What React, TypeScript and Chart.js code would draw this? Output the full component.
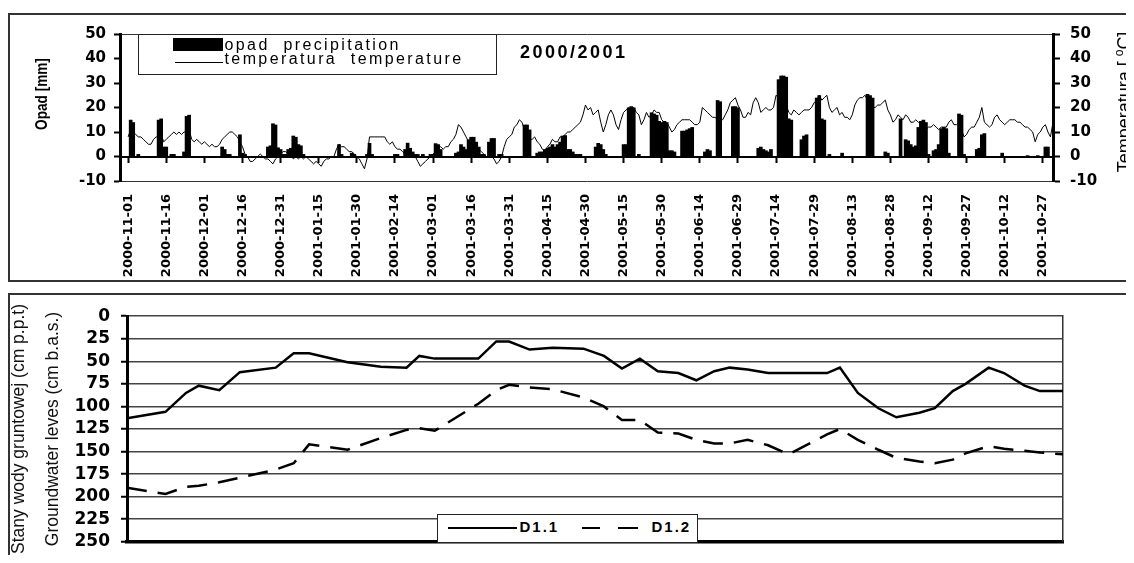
import React, { useEffect, useRef } from 'react';
import { Chart, registerables } from 'chart.js';

Chart.register(...registerables);

// ---------------- DATA ----------------
// Upper panel: daily values, day 0 = 2000-11-01
const xTickLabels = [
  '2000-11-01', '2000-11-16', '2000-12-01', '2000-12-16', '2000-12-31',
  '2001-01-15', '2001-01-30', '2001-02-14', '2001-03-01', '2001-03-16',
  '2001-03-31', '2001-04-15', '2001-04-30', '2001-05-15', '2001-05-30',
  '2001-06-14', '2001-06-29', '2001-07-14', '2001-07-29', '2001-08-13',
  '2001-08-28', '2001-09-12', '2001-09-27', '2001-10-12', '2001-10-27',
];
const tickEveryDays = 15;

// daily air temperature [°C]
const tempC = [
  8, 11, 10, 9, 8, 8, 7, 6, 5, 5,
  7, 8, 8, 9, 6, 7, 8, 9, 10, 9,
  10, 9, 10, 10, 11, 7, 6, 7, 6, 5,
  6, 5, 4, 5, 4, 4, 5, 7, 8, 9,
  10, 10, 9, 8, 6, 4, 1, 0, -2, -2,
  -1, 0, 1, 0, -1, -1, -2, -3, -1, 0,
  1, 2, 2, 1, 1, -1, 0, -1, 0, -1,
  0, -1, -2, -3, -2, -3, -4, -2, -1, -1,
  0, 0, 3, 5, 4, 4, 3, 2, 2, 1,
  0, -1, -3, -5, -1, 8, 8, 8, 8, 8,
  8, 8, 6, 5, 6, 4, 3, 3, 2, 1,
  1, 1, 0, 0, -2, -4, -3, -2, -1, 0,
  1, 2, 3, 4, 3, 4, 4, 6, 7, 9,
  13, 12, 10, 8, 6, 4, 2, 1, 3, 2,
  1, 0, 0, 0, -1, -3, -2, 0, 4, 7,
  8, 9, 12, 13, 15, 14, 11, 9, 7, 7,
  8, 6, 5, 3, 2, 4, 5, 7, 6, 6,
  8, 8, 9, 10, 10, 11, 12, 13, 14, 17,
  21, 19, 20, 17, 18, 19, 14, 10, 13, 17,
  19, 17, 13, 11, 15, 18, 19, 20, 19, 20,
  18, 17, 13, 15, 18, 16, 17, 19, 18, 18,
  15, 14, 14, 12, 10, 11, 13, 14, 15, 15,
  15, 15, 14, 13, 13, 14, 20, 19, 18, 17,
  16, 16, 15, 15, 15, 17, 19, 22, 23, 24,
  21, 19, 16, 16, 18, 17, 22, 24, 22, 18,
  19, 20, 19, 19, 20, 25, 24, 25, 23, 21,
  18, 17, 19, 18, 17, 18, 19, 19, 19, 20,
  22, 23, 25, 23, 24, 25, 20, 18, 19, 20,
  17, 18, 16, 16, 15, 17, 21, 23, 24, 24,
  25, 23, 21, 20, 20, 21, 21, 22, 23, 19,
  17, 14, 15, 17, 16, 15, 17, 16, 14, 14,
  15, 14, 13, 12, 11, 12, 12, 13, 12, 11,
  12, 12, 12, 14, 15, 13, 13, 14, 11, 8,
  9, 11, 12, 12, 14, 16, 20, 14, 13, 12,
  13, 16, 17, 15, 14, 13, 14, 15, 15, 15,
  14, 14, 13, 12, 12, 11, 10, 6, 9, 10,
  12, 13, 10, 8, 14,
];

// daily precipitation [mm]
const precipMm = [
  0, 15, 14, 0, 1, 0, 0, 0, 0, 0,
  0, 0, 15, 15.5, 4, 4, 0, 1, 1, 0,
  0, 0, 2, 16.5, 17, 0, 0, 0, 0, 0,
  0, 0, 0, 0, 0, 0, 0, 4, 3, 1,
  1, 0, 0, 0, 9, 1.5, 1, 0, 0, 0,
  0, 0, 0, 0, 0, 4, 4.5, 13.5, 13, 3.7,
  3, 1, 1, 3, 3.5, 8.5, 8, 5, 4.5, 1,
  0, 0, 0, 0, 0, 0, 0, 0, 0, 0,
  0, 0, 0, 5, 1, 0, 0, 0, 1.5, 1,
  0, 0, 0, 0, 1, 5.5, 1, 0, 0, 0,
  0, 0, 0, 0, 0, 1, 1, 0, 0, 3,
  5.6, 3.5, 2, 1, 1, 0, 1, 0, 0, 1,
  1, 5.4, 5, 3, 0, 0, 0, 0, 0, 1.5,
  2, 5, 4, 3, 7, 8, 8, 6, 4, 1,
  1, 0, 6, 7.5, 7.5, 0, 1, 1, 0, 0,
  0, 0, 0, 0, 0, 0, 13, 13, 11, 0,
  0, 1.5, 2, 2, 3, 3.5, 4, 5, 4, 5,
  6, 8.5, 8.7, 3, 3, 2, 1, 1, 1, 0,
  0, 0, 0, 0, 4, 5.5, 5, 3, 1, 0,
  0, 0, 0, 0, 0, 5, 5, 20, 20.5, 20,
  0, 1, 0, 0, 0, 0, 18, 17.5, 17, 14.5,
  14, 14.5, 14, 2.5, 2.5, 2, 0, 0, 10.5, 10.5,
  11, 11.5, 12, 0, 0, 0, 0, 2, 3, 2.5,
  0, 0, 23, 22.5, 0, 0, 0, 0, 20.5, 20.5,
  20, 0, 0, 0, 0, 0, 0, 0, 3.5, 4,
  3, 2.5, 2, 3, 0, 0, 31.5, 33, 33, 32.5,
  15.5, 15, 0, 0, 0, 7, 8.5, 9, 0, 0,
  0, 24, 25, 15.5, 15, 0, 1, 0, 0, 0,
  0, 1.5, 0, 0, 0, 0, 0, 0, 0, 0,
  0, 25.5, 25, 24, 0, 0, 0, 0, 2, 1.5,
  0, 0, 0, 0, 15.5, 0, 7, 6.5, 5, 4,
  4.5, 12, 14.5, 15, 14, 1, 0, 2.5, 3, 5,
  11.5, 12, 11.5, 1.5, 0, 0, 0, 17.5, 17, 1,
  0, 0, 0, 0, 3, 3.5, 9, 9.5, 0, 0,
  0, 0, 0, 0, 1.5, 0, 0, 0, 0, 0,
  0, 0, 0, 0, 0.5, 0, 0, 0, 0.5, 0,
  0, 4, 4, 0, 0,
];

// Lower panel: groundwater measurements (day since 2000-11-01, depth in cm)
const gwDay = [
  0, 15, 23, 28, 36, 44, 58, 65, 71, 86, 99, 109, 114, 120, 137, 144, 149, 157,
  166, 178, 186, 193, 200, 207, 215, 222, 229, 235, 242, 250, 258, 273, 278,
  285, 293, 300, 309, 315, 322, 327, 336, 342, 350, 356, 365,
];
const gwD11 = [
  113, 106, 85, 77, 82, 62, 57, 41, 41, 51, 56, 57, 44, 47, 47, 28, 28, 37,
  35, 36, 44, 58, 47, 61, 63, 71, 61, 57, 59, 63, 63, 63, 57,
  85, 102, 112, 107, 102, 83, 75, 57, 63, 77, 83, 83,
];
const gwD12 = [
  190, 197, 189, 188, 184, 179, 170, 163, 142, 148, 135, 126, 124, 127, 97, 82, 76, 79,
  81, 90, 100, 115, 115, 129, 130, 137, 141, 141, 137, 143, 153, 131, 125,
  137, 148, 157, 161, 163, 159, 152, 144, 147, 149, 151, 153,
];

// ---------------- STYLE ----------------
const SANS = "'Liberation Sans', Arial, sans-serif";
const HEAVY = "'DejaVu Sans', 'Liberation Sans', sans-serif";

export default function App() {
  const topRef = useRef<HTMLCanvasElement>(null);
  const botRef = useRef<HTMLCanvasElement>(null);

  useEffect(() => {
    document.body.style.overflow = 'hidden';
    const tickDays = xTickLabels.map((_, i) => i * tickEveryDays);
    const setTicks = (scale: any) => {
      scale.ticks = tickDays.map((v) => ({ value: v }));
    };
    const dayMin = -3.2;
    const dayMax = 364;

    const top = new Chart(topRef.current as HTMLCanvasElement, {
      type: 'bar',
      data: {
        datasets: [
          {
            type: 'line',
            label: 'temperatura temperature',
            data: tempC.map((v, i) => ({ x: i, y: v })),
            xAxisID: 'x',
            yAxisID: 'y2',
            borderColor: '#000',
            borderWidth: 1,
            pointRadius: 0,
            tension: 0,
            order: 0,
          } as any,
          {
            type: 'bar',
            label: 'opad precipitation',
            data: precipMm.map((v, i) => ({ x: i, y: v })),
            xAxisID: 'x',
            yAxisID: 'y',
            backgroundColor: '#000',
            borderWidth: 0,
            barPercentage: 1.45,
            categoryPercentage: 1,
            order: 1,
          } as any,
        ],
      },
      options: {
        animation: false,
        responsive: false,
        maintainAspectRatio: false,
        layout: { padding: { top: 12, left: 0, right: 0, bottom: 0 } },
        plugins: { legend: { display: false }, title: { display: false }, tooltip: { enabled: false } },
        scales: {
          x: {
            type: 'linear',
            axis: 'x',
            position: 'bottom',
            min: dayMin,
            max: dayMax,
            offset: false,
            grid: { display: false, offset: false },
            border: { display: false },
            afterBuildTicks: setTicks,
            afterFit: (s: any) => { s.height = 99; },
            ticks: {
              autoSkip: false,
              minRotation: 90,
              maxRotation: 90,
              padding: 5,
              color: '#000',
              font: { family: HEAVY, size: 13, weight: 'bold' },
              callback: (v: any) => xTickLabels[Math.round(Number(v) / tickEveryDays)] ?? '',
            },
          },
          x0: {
            type: 'linear',
            axis: 'x',
            position: { y: 0 },
            min: dayMin,
            max: dayMax,
            offset: false,
            ticks: { display: false },
            grid: { drawOnChartArea: false, drawTicks: true, tickLength: 5, tickColor: '#000', tickWidth: 2, offset: false },
            border: { display: true, color: '#000', width: 2 },
            afterBuildTicks: setTicks,
          },
          y: {
            type: 'linear',
            position: 'left',
            min: -10,
            max: 50,
            ticks: { stepSize: 10, color: '#000', padding: 8, font: { family: HEAVY, size: 15, weight: 'bold' } },
            grid: {
              color: (c: any) => (c.tick && (c.tick.value === 50 || c.tick.value === -10) ? '#333' : 'rgba(0,0,0,0)'),
              lineWidth: 1,
              tickColor: '#000',
              tickLength: 6,
              tickWidth: 2,
            },
            border: { color: '#000', width: 3 },
            afterFit: (s: any) => { s.width = 110; },
          },
          y2: {
            type: 'linear',
            position: 'right',
            min: -10,
            max: 50,
            ticks: { stepSize: 10, color: '#000', padding: 10, font: { family: HEAVY, size: 15, weight: 'bold' } },
            grid: { drawOnChartArea: false, tickColor: '#000', tickLength: 7, tickWidth: 2 },
            border: { color: '#000', width: 3 },
            afterFit: (s: any) => { s.width = 81; },
          },
        } as any,
      },
    });

    const bot = new Chart(botRef.current as HTMLCanvasElement, {
      type: 'line',
      data: {
        labels: gwDay,
        datasets: [
          { label: 'D1.1', data: gwD11, borderColor: '#000', borderWidth: 2.5, pointRadius: 0, tension: 0, fill: false },
          { label: 'D1.2', data: gwD12, borderColor: '#000', borderWidth: 2.5, borderDash: [20, 11], pointRadius: 0, tension: 0, fill: false },
        ],
      },
      options: {
        animation: false,
        responsive: false,
        maintainAspectRatio: false,
        layout: { padding: { top: 13, bottom: 12, left: 0, right: 0 } },
        plugins: { legend: { display: false }, title: { display: false }, tooltip: { enabled: false } },
        scales: {
          x: {
            type: 'linear',
            min: 0,
            max: 365,
            offset: false,
            ticks: { display: false },
            grid: { display: false },
            border: { display: true, color: '#000', width: 3.5 },
            afterFit: (s: any) => { s.height = 0; },
          },
          y: {
            type: 'linear',
            position: 'left',
            reverse: true,
            min: 0,
            max: 250,
            ticks: { stepSize: 25, color: '#000', padding: 11, font: { family: HEAVY, size: 17, weight: 'bold' } },
            grid: { color: '#444', lineWidth: 1.5, tickColor: '#000', tickLength: 6, tickWidth: 2 },
            border: { color: '#000', width: 3 },
            title: {
              display: true,
              text: ['Stany wody gruntowej (cm p.p.t)', 'Groundwater leves (cm b.a.s.)'],
              color: '#111',
              font: { family: SANS, size: 17.5, lineHeight: '34px' as any },
              padding: { top: -8, bottom: 0 },
            },
            afterFit: (s: any) => { s.width = 117; },
          },
          yr: {
            type: 'linear',
            axis: 'y',
            position: 'right',
            reverse: true,
            min: 0,
            max: 250,
            ticks: { display: false },
            grid: { display: false },
            border: { display: true, color: '#333', width: 1.5 },
            afterFit: (s: any) => { s.width = 71; },
          },
        } as any,
      },
    });

    return () => {
      top.destroy();
      bot.destroy();
    };
  }, []);

  const legendText: React.CSSProperties = {
    position: 'absolute',
    fontFamily: SANS,
    fontSize: 16,
    lineHeight: '16px',
    letterSpacing: '2.4px',
    whiteSpace: 'pre',
    color: '#000',
  };
  const botLegendText: React.CSSProperties = {
    position: 'absolute',
    top: 4,
    fontFamily: SANS,
    fontWeight: 'bold',
    fontSize: 15,
    lineHeight: '15px',
    letterSpacing: '2px',
    whiteSpace: 'pre',
    color: '#000',
  };
  const seg = (left: number, width: number): React.CSSProperties => ({
    position: 'absolute',
    left,
    top: 11.75,
    width,
    height: 2.5,
    background: '#000',
  });

  return (
    <div style={{ position: 'relative', width: 1118, height: 547, overflow: 'visible' }}>
      {/* upper panel */}
      <div
        style={{
          position: 'absolute', left: 0, top: 5, width: 1126, height: 269, boxSizing: 'border-box',
          border: '2px solid #333', borderRight: 'none', overflow: 'hidden', background: '#fff',
        }}
      >
        <canvas ref={topRef} width={1124} height={265} style={{ position: 'absolute', left: 0, top: 0, width: 1124, height: 265 }} />
        <div
          style={{
            position: 'absolute', left: 128, top: 19, width: 359, height: 41, boxSizing: 'border-box',
            border: '1.5px solid #222', background: '#fff',
          }}
        >
          <div style={{ position: 'absolute', left: 33.5, top: 2.5, width: 50, height: 13, background: '#000' }} />
          <div style={{ ...legendText, left: 85.5, top: 1.7 }}>opad  precipitation</div>
          <div style={{ position: 'absolute', left: 35.5, top: 27, width: 48, height: 1, background: '#000' }} />
          <div style={{ ...legendText, left: 85.5, top: 16 }}>temperatura  temperature</div>
        </div>
        <div
          style={{
            position: 'absolute', left: 510, top: 27.8, fontFamily: SANS, fontWeight: 'bold', fontSize: 18,
            lineHeight: '18px', letterSpacing: '2.5px', whiteSpace: 'pre', color: '#000',
          }}
        >
          2000/2001
        </div>
        {/* left axis title */}
        <div
          style={{
            position: 'absolute', left: -18, top: 69, width: 100, height: 20, lineHeight: '20px', textAlign: 'center',
            transform: 'rotate(-90deg) scaleX(0.8)', fontFamily: SANS, fontWeight: 'bold', fontSize: 17,
            whiteSpace: 'nowrap', color: '#000',
          }}
        >
          Opad [mm]
        </div>
        {/* right axis title */}
        <div
          style={{
            position: 'absolute', left: 1034, top: 77, width: 160, height: 20, lineHeight: '20px', textAlign: 'center',
            transform: 'rotate(-90deg)', fontFamily: SANS, fontSize: 18, whiteSpace: 'nowrap', color: '#000',
          }}
        >
          Temperatura [ <sup style={{ fontSize: 12, lineHeight: 0 }}>o</sup>C]
        </div>
      </div>

      {/* lower panel */}
      <div
        style={{
          position: 'absolute', left: 0, top: 285, width: 1126, height: 270, boxSizing: 'border-box',
          borderTop: '2px solid #333', borderLeft: '2px solid #333', overflow: 'hidden', background: '#fff',
        }}
      >
        <canvas ref={botRef} width={1124} height={268} style={{ position: 'absolute', left: 0, top: 0, width: 1124, height: 268 }} />
        <div
          style={{
            position: 'absolute', left: 427, top: 219, width: 261, height: 29, boxSizing: 'border-box',
            border: '1.5px solid #222', background: '#fff',
          }}
        >
          <div style={seg(9.5, 69)} />
          <div style={{ ...botLegendText, left: 81.5 }}>D1.1</div>
          <div style={seg(143.5, 18)} />
          <div style={seg(179.5, 20)} />
          <div style={{ ...botLegendText, left: 213.5 }}>D1.2</div>
        </div>
      </div>
    </div>
  );
}
